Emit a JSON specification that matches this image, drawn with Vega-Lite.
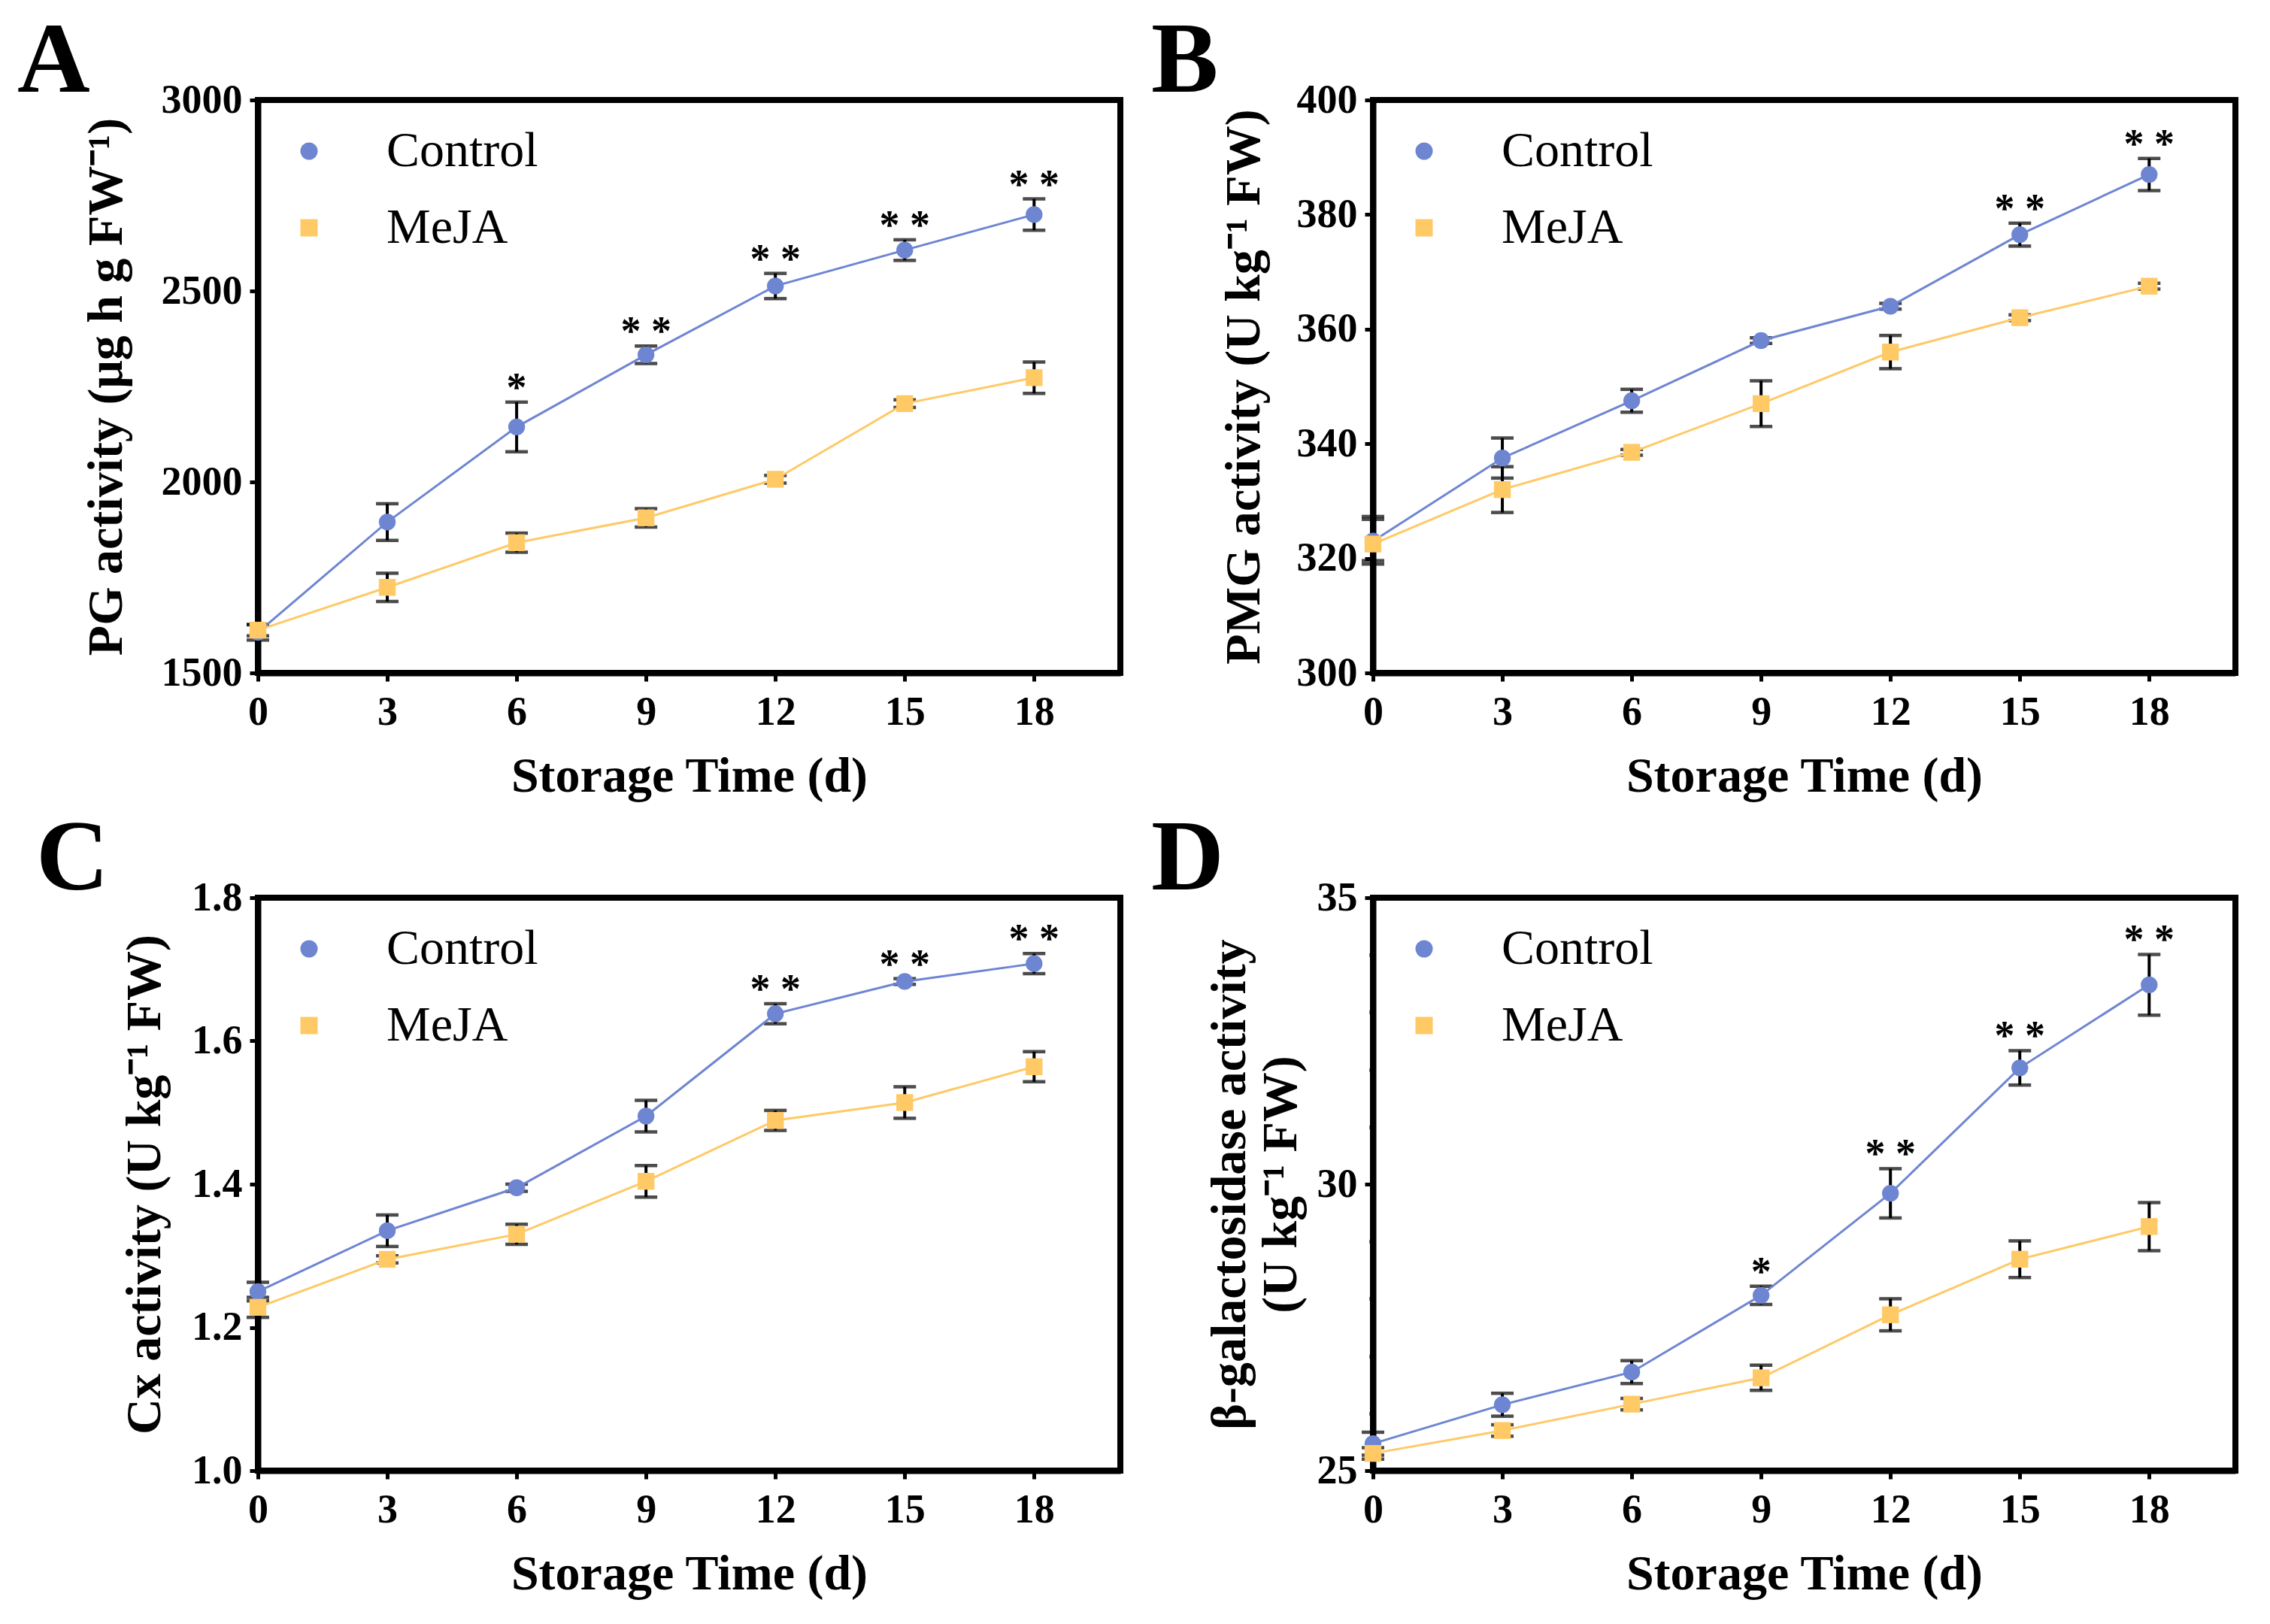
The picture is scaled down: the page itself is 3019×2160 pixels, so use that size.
{
  "$schema": "https://vega.github.io/schema/vega-lite/v6.json",
  "background": "white",
  "padding": {"left": 19, "top": 11, "right": 5, "bottom": 5},
  "config": {
    "font": "Liberation Serif",
    "view": {"stroke": "black", "strokeWidth": 8},
    "axis": {"domainColor": "black", "domainWidth": 8, "tickColor": "black", "tickWidth": 5, "tickSize": 11, "labelFont": "Liberation Serif", "labelFontWeight": "bold", "labelFontSize": 54, "labelColor": "black", "titleFont": "Liberation Serif", "titleFontWeight": "bold", "titleFontSize": 66, "titleColor": "black", "grid": false, "labelFlush": false, "labelOverlap": false},
    "axisX": {"labelPadding": 14, "titlePadding": 26},
    "axisY": {"labelPadding": 10, "titlePadding": 30},
    "title": {"font": "Liberation Serif", "fontWeight": "bold", "fontSize": 134, "color": "black", "anchor": "start", "frame": "group", "baseline": "alphabetic", "offset": -44},
    "legend": {"orient": "top-left", "offset": 35, "padding": 0, "labelFont": "Liberation Serif", "labelFontSize": 66, "labelFontWeight": "normal", "labelColor": "black", "labelLimit": 500, "symbolSize": 529, "symbolStrokeWidth": 0, "labelOffset": 70, "rowPadding": 36}
  },
  "datasets": {
    "A": [
      {"day": 0, "group": "Control", "mean": 1606, "lo": 1586, "hi": 1626, "sig": ""},
      {"day": 3, "group": "Control", "mean": 1895, "lo": 1847, "hi": 1943, "sig": ""},
      {"day": 6, "group": "Control", "mean": 2144, "lo": 2079, "hi": 2209, "sig": "*"},
      {"day": 9, "group": "Control", "mean": 2333, "lo": 2310, "hi": 2356, "sig": "* *"},
      {"day": 12, "group": "Control", "mean": 2513, "lo": 2480, "hi": 2546, "sig": "* *"},
      {"day": 15, "group": "Control", "mean": 2607, "lo": 2580, "hi": 2634, "sig": "* *"},
      {"day": 18, "group": "Control", "mean": 2700, "lo": 2659, "hi": 2741, "sig": "* *"},
      {"day": 0, "group": "MeJA", "mean": 1612, "lo": 1597, "hi": 1627, "sig": ""},
      {"day": 3, "group": "MeJA", "mean": 1724, "lo": 1687, "hi": 1761, "sig": ""},
      {"day": 6, "group": "MeJA", "mean": 1841, "lo": 1816, "hi": 1866, "sig": ""},
      {"day": 9, "group": "MeJA", "mean": 1906, "lo": 1882, "hi": 1930, "sig": ""},
      {"day": 12, "group": "MeJA", "mean": 2007, "lo": 1997, "hi": 2017, "sig": ""},
      {"day": 15, "group": "MeJA", "mean": 2205, "lo": 2195, "hi": 2215, "sig": ""},
      {"day": 18, "group": "MeJA", "mean": 2273, "lo": 2232, "hi": 2314, "sig": ""}
    ],
    "B": [
      {"day": 0, "group": "Control", "mean": 323, "lo": 319, "hi": 327.3, "sig": ""},
      {"day": 3, "group": "Control", "mean": 337.5, "lo": 334, "hi": 341, "sig": ""},
      {"day": 6, "group": "Control", "mean": 347.5, "lo": 345.5, "hi": 349.5, "sig": ""},
      {"day": 9, "group": "Control", "mean": 358, "lo": 357.5, "hi": 358.5, "sig": ""},
      {"day": 12, "group": "Control", "mean": 364, "lo": 363.5, "hi": 364.5, "sig": ""},
      {"day": 15, "group": "Control", "mean": 376.5, "lo": 374.5, "hi": 378.5, "sig": "* *"},
      {"day": 18, "group": "Control", "mean": 387, "lo": 384.2, "hi": 389.8, "sig": "* *"},
      {"day": 0, "group": "MeJA", "mean": 322.5, "lo": 319.6, "hi": 326.8, "sig": ""},
      {"day": 3, "group": "MeJA", "mean": 332, "lo": 328, "hi": 336, "sig": ""},
      {"day": 6, "group": "MeJA", "mean": 338.5, "lo": 338, "hi": 339, "sig": ""},
      {"day": 9, "group": "MeJA", "mean": 347, "lo": 343, "hi": 351, "sig": ""},
      {"day": 12, "group": "MeJA", "mean": 356, "lo": 353.1, "hi": 358.9, "sig": ""},
      {"day": 15, "group": "MeJA", "mean": 362, "lo": 361.5, "hi": 362.5, "sig": ""},
      {"day": 18, "group": "MeJA", "mean": 367.5, "lo": 367, "hi": 368, "sig": ""}
    ],
    "C": [
      {"day": 0, "group": "Control", "mean": 1.25, "lo": 1.237, "hi": 1.263, "sig": ""},
      {"day": 3, "group": "Control", "mean": 1.335, "lo": 1.313, "hi": 1.357, "sig": ""},
      {"day": 6, "group": "Control", "mean": 1.395, "lo": 1.39, "hi": 1.4, "sig": ""},
      {"day": 9, "group": "Control", "mean": 1.495, "lo": 1.473, "hi": 1.517, "sig": ""},
      {"day": 12, "group": "Control", "mean": 1.638, "lo": 1.624, "hi": 1.652, "sig": "* *"},
      {"day": 15, "group": "Control", "mean": 1.683, "lo": 1.679, "hi": 1.687, "sig": "* *"},
      {"day": 18, "group": "Control", "mean": 1.708, "lo": 1.694, "hi": 1.722, "sig": "* *"},
      {"day": 0, "group": "MeJA", "mean": 1.228, "lo": 1.214, "hi": 1.242, "sig": ""},
      {"day": 3, "group": "MeJA", "mean": 1.295, "lo": 1.29, "hi": 1.3, "sig": ""},
      {"day": 6, "group": "MeJA", "mean": 1.33, "lo": 1.316, "hi": 1.344, "sig": ""},
      {"day": 9, "group": "MeJA", "mean": 1.404, "lo": 1.382, "hi": 1.426, "sig": ""},
      {"day": 12, "group": "MeJA", "mean": 1.489, "lo": 1.475, "hi": 1.503, "sig": ""},
      {"day": 15, "group": "MeJA", "mean": 1.514, "lo": 1.492, "hi": 1.536, "sig": ""},
      {"day": 18, "group": "MeJA", "mean": 1.564, "lo": 1.543, "hi": 1.585, "sig": ""}
    ],
    "D": [
      {"day": 0, "group": "Control", "mean": 25.47, "lo": 25.27, "hi": 25.67, "sig": ""},
      {"day": 3, "group": "Control", "mean": 26.15, "lo": 25.95, "hi": 26.35, "sig": ""},
      {"day": 6, "group": "Control", "mean": 26.72, "lo": 26.52, "hi": 26.92, "sig": ""},
      {"day": 9, "group": "Control", "mean": 28.06, "lo": 27.9, "hi": 28.22, "sig": "*"},
      {"day": 12, "group": "Control", "mean": 29.84, "lo": 29.41, "hi": 30.27, "sig": "* *"},
      {"day": 15, "group": "Control", "mean": 32.03, "lo": 31.73, "hi": 32.33, "sig": "* *"},
      {"day": 18, "group": "Control", "mean": 33.48, "lo": 32.95, "hi": 34.01, "sig": "* *"},
      {"day": 0, "group": "MeJA", "mean": 25.3, "lo": 25.2, "hi": 25.4, "sig": ""},
      {"day": 3, "group": "MeJA", "mean": 25.7, "lo": 25.6, "hi": 25.8, "sig": ""},
      {"day": 6, "group": "MeJA", "mean": 26.16, "lo": 26.06, "hi": 26.26, "sig": ""},
      {"day": 9, "group": "MeJA", "mean": 26.62, "lo": 26.4, "hi": 26.84, "sig": ""},
      {"day": 12, "group": "MeJA", "mean": 27.72, "lo": 27.44, "hi": 28.0, "sig": ""},
      {"day": 15, "group": "MeJA", "mean": 28.69, "lo": 28.37, "hi": 29.01, "sig": ""},
      {"day": 18, "group": "MeJA", "mean": 29.26, "lo": 28.84, "hi": 29.68, "sig": ""}
    ]
  },
  "columns": 2,
  "bounds": "flush",
  "spacing": {"row": 299, "column": 336},
  "resolve": {"scale": {"color": "independent", "shape": "independent"}, "legend": {"color": "independent", "shape": "independent"}},
  "concat": [
    {
      "title": {"text": "A", "dx": -320},
      "width": 1147, "height": 762,
      "data": {"name": "A"},
      "encoding": {"x": {"field": "day", "type": "quantitative", "scale": {"domain": [0, 20], "nice": false}, "axis": {"values": [0, 3, 6, 9, 12, 15, 18], "title": "Storage Time (d)"}}},
      "layer": [
        {"mark": {"type": "rule", "color": "black", "strokeWidth": 4}, "encoding": {"y": {"field": "lo", "type": "quantitative", "title": "PG activity (μg h g FW⁻¹)", "scale": {"domain": [1500, 3000], "nice": false, "zero": false}, "axis": {"values": [1500, 2000, 2500, 3000], "format": "d", "titlePadding": 39}}, "y2": {"field": "hi"}}},
        {"mark": {"type": "tick", "orient": "horizontal", "color": "black", "size": 30, "thickness": 4.5}, "encoding": {"y": {"field": "lo", "type": "quantitative", "title": "PG activity (μg h g FW⁻¹)"}}},
        {"mark": {"type": "tick", "orient": "horizontal", "color": "black", "size": 30, "thickness": 4.5}, "encoding": {"y": {"field": "hi", "type": "quantitative", "title": "PG activity (μg h g FW⁻¹)"}}},
        {"mark": {"type": "line", "strokeWidth": 3}, "encoding": {"y": {"field": "mean", "type": "quantitative", "title": "PG activity (μg h g FW⁻¹)"}, "color": {"field": "group", "type": "nominal", "scale": {"domain": ["Control", "MeJA"], "range": ["#6E85D2", "#FFC966"]}, "legend": {"title": null}}}},
        {"mark": {"type": "point", "filled": true, "opacity": 1, "size": 500}, "encoding": {"y": {"field": "mean", "type": "quantitative", "title": "PG activity (μg h g FW⁻¹)"}, "color": {"field": "group", "type": "nominal", "legend": {"title": null}}, "shape": {"field": "group", "type": "nominal", "scale": {"domain": ["Control", "MeJA"], "range": ["circle", "square"]}, "legend": {"title": null}}}},
        {"mark": {"type": "text", "font": "Liberation Serif", "fontWeight": "bold", "fontSize": 54, "baseline": "alphabetic", "dy": -2, "color": "black"}, "encoding": {"y": {"field": "hi", "type": "quantitative", "title": "PG activity (μg h g FW⁻¹)"}, "text": {"field": "sig"}}}
      ]
    },
    {
      "title": {"text": "B", "dx": -295},
      "width": 1147, "height": 762,
      "data": {"name": "B"},
      "encoding": {"x": {"field": "day", "type": "quantitative", "scale": {"domain": [0, 20], "nice": false}, "axis": {"values": [0, 3, 6, 9, 12, 15, 18], "title": "Storage Time (d)"}}},
      "layer": [
        {"mark": {"type": "rule", "color": "black", "strokeWidth": 4}, "encoding": {"y": {"field": "lo", "type": "quantitative", "title": "PMG activity (U kg⁻¹ FW)", "scale": {"domain": [300, 400], "nice": false, "zero": false}, "axis": {"values": [300, 320, 340, 360, 380, 400], "format": "d", "titlePadding": 36}}, "y2": {"field": "hi"}}},
        {"mark": {"type": "tick", "orient": "horizontal", "color": "black", "size": 30, "thickness": 4.5}, "encoding": {"y": {"field": "lo", "type": "quantitative", "title": "PMG activity (U kg⁻¹ FW)"}}},
        {"mark": {"type": "tick", "orient": "horizontal", "color": "black", "size": 30, "thickness": 4.5}, "encoding": {"y": {"field": "hi", "type": "quantitative", "title": "PMG activity (U kg⁻¹ FW)"}}},
        {"mark": {"type": "line", "strokeWidth": 3}, "encoding": {"y": {"field": "mean", "type": "quantitative", "title": "PMG activity (U kg⁻¹ FW)"}, "color": {"field": "group", "type": "nominal", "scale": {"domain": ["Control", "MeJA"], "range": ["#6E85D2", "#FFC966"]}, "legend": {"title": null}}}},
        {"mark": {"type": "point", "filled": true, "opacity": 1, "size": 500}, "encoding": {"y": {"field": "mean", "type": "quantitative", "title": "PMG activity (U kg⁻¹ FW)"}, "color": {"field": "group", "type": "nominal", "legend": {"title": null}}, "shape": {"field": "group", "type": "nominal", "scale": {"domain": ["Control", "MeJA"], "range": ["circle", "square"]}, "legend": {"title": null}}}},
        {"mark": {"type": "text", "font": "Liberation Serif", "fontWeight": "bold", "fontSize": 54, "baseline": "alphabetic", "dy": -2, "color": "black"}, "encoding": {"y": {"field": "hi", "type": "quantitative", "title": "PMG activity (U kg⁻¹ FW)"}, "text": {"field": "sig"}}}
      ]
    },
    {
      "title": {"text": "C", "dx": -295},
      "width": 1147, "height": 762,
      "data": {"name": "C"},
      "encoding": {"x": {"field": "day", "type": "quantitative", "scale": {"domain": [0, 20], "nice": false}, "axis": {"values": [0, 3, 6, 9, 12, 15, 18], "title": "Storage Time (d)"}}},
      "layer": [
        {"mark": {"type": "rule", "color": "black", "strokeWidth": 4}, "encoding": {"y": {"field": "lo", "type": "quantitative", "title": "Cx activity (U kg⁻¹ FW)", "scale": {"domain": [1.0, 1.8], "nice": false, "zero": false}, "axis": {"values": [1.0, 1.2, 1.4, 1.6, 1.8], "format": ".1f", "titlePadding": 28}}, "y2": {"field": "hi"}}},
        {"mark": {"type": "tick", "orient": "horizontal", "color": "black", "size": 30, "thickness": 4.5}, "encoding": {"y": {"field": "lo", "type": "quantitative", "title": "Cx activity (U kg⁻¹ FW)"}}},
        {"mark": {"type": "tick", "orient": "horizontal", "color": "black", "size": 30, "thickness": 4.5}, "encoding": {"y": {"field": "hi", "type": "quantitative", "title": "Cx activity (U kg⁻¹ FW)"}}},
        {"mark": {"type": "line", "strokeWidth": 3}, "encoding": {"y": {"field": "mean", "type": "quantitative", "title": "Cx activity (U kg⁻¹ FW)"}, "color": {"field": "group", "type": "nominal", "scale": {"domain": ["Control", "MeJA"], "range": ["#6E85D2", "#FFC966"]}, "legend": {"title": null}}}},
        {"mark": {"type": "point", "filled": true, "opacity": 1, "size": 500}, "encoding": {"y": {"field": "mean", "type": "quantitative", "title": "Cx activity (U kg⁻¹ FW)"}, "color": {"field": "group", "type": "nominal", "legend": {"title": null}}, "shape": {"field": "group", "type": "nominal", "scale": {"domain": ["Control", "MeJA"], "range": ["circle", "square"]}, "legend": {"title": null}}}},
        {"mark": {"type": "text", "font": "Liberation Serif", "fontWeight": "bold", "fontSize": 54, "baseline": "alphabetic", "dy": -2, "color": "black"}, "encoding": {"y": {"field": "hi", "type": "quantitative", "title": "Cx activity (U kg⁻¹ FW)"}, "text": {"field": "sig"}}}
      ]
    },
    {
      "title": {"text": "D", "dx": -295},
      "width": 1147, "height": 762,
      "data": {"name": "D"},
      "encoding": {"x": {"field": "day", "type": "quantitative", "scale": {"domain": [0, 20], "nice": false}, "axis": {"values": [0, 3, 6, 9, 12, 15, 18], "title": "Storage Time (d)"}}},
      "layer": [
        {"mark": {"type": "rule", "color": "black", "strokeWidth": 4}, "encoding": {"y": {"field": "lo", "type": "quantitative", "title": ["β-galactosidase activity", "(U kg⁻¹ FW)"], "scale": {"domain": [25, 35], "nice": false, "zero": false}, "axis": {"values": [25, 26, 27, 28, 29, 30, 31, 32, 33, 34, 35], "format": "d", "titlePadding": 14, "labelExpr": "datum.value % 5 === 0 ? datum.label : ''", "tickSize": {"condition": {"test": "datum.value % 5 === 0", "value": 11}, "value": 5}}}, "y2": {"field": "hi"}}},
        {"mark": {"type": "tick", "orient": "horizontal", "color": "black", "size": 30, "thickness": 4.5}, "encoding": {"y": {"field": "lo", "type": "quantitative", "title": ["β-galactosidase activity", "(U kg⁻¹ FW)"]}}},
        {"mark": {"type": "tick", "orient": "horizontal", "color": "black", "size": 30, "thickness": 4.5}, "encoding": {"y": {"field": "hi", "type": "quantitative", "title": ["β-galactosidase activity", "(U kg⁻¹ FW)"]}}},
        {"mark": {"type": "line", "strokeWidth": 3}, "encoding": {"y": {"field": "mean", "type": "quantitative", "title": ["β-galactosidase activity", "(U kg⁻¹ FW)"]}, "color": {"field": "group", "type": "nominal", "scale": {"domain": ["Control", "MeJA"], "range": ["#6E85D2", "#FFC966"]}, "legend": {"title": null}}}},
        {"mark": {"type": "point", "filled": true, "opacity": 1, "size": 500}, "encoding": {"y": {"field": "mean", "type": "quantitative", "title": ["β-galactosidase activity", "(U kg⁻¹ FW)"]}, "color": {"field": "group", "type": "nominal", "legend": {"title": null}}, "shape": {"field": "group", "type": "nominal", "scale": {"domain": ["Control", "MeJA"], "range": ["circle", "square"]}, "legend": {"title": null}}}},
        {"mark": {"type": "text", "font": "Liberation Serif", "fontWeight": "bold", "fontSize": 54, "baseline": "alphabetic", "dy": -2, "color": "black"}, "encoding": {"y": {"field": "hi", "type": "quantitative", "title": ["β-galactosidase activity", "(U kg⁻¹ FW)"]}, "text": {"field": "sig"}}}
      ]
    }
  ]
}
